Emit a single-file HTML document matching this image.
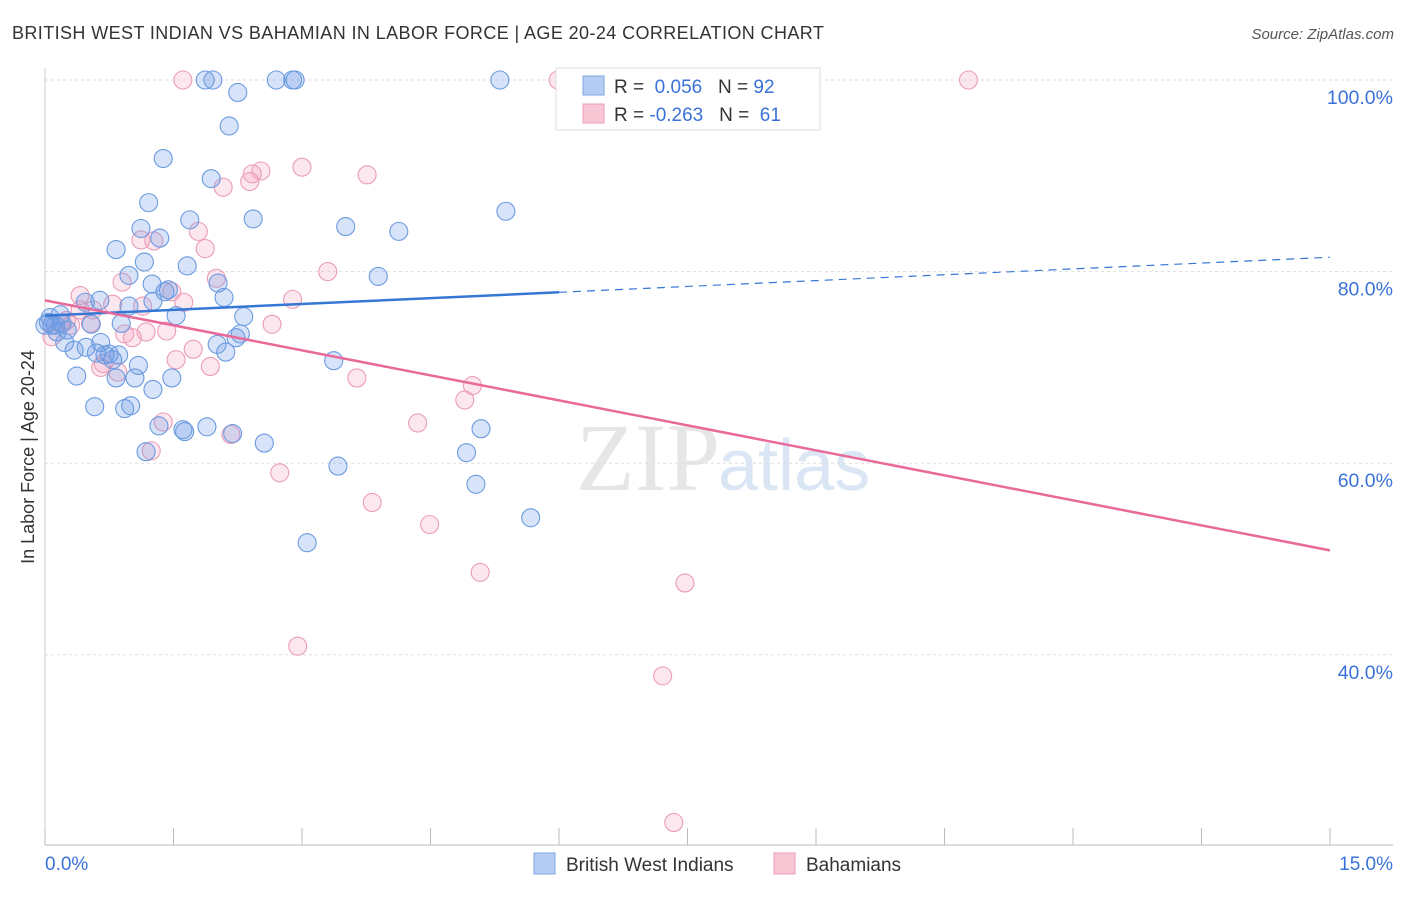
<!DOCTYPE html>
<html><head><meta charset="utf-8"><style>
body{margin:0;background:#fff;font-family:"Liberation Sans",sans-serif;}
</style></head><body>
<svg id="c" width="1406" height="892" xmlns="http://www.w3.org/2000/svg">
<text x="12" y="39" font-size="18" fill="#333" letter-spacing="0.4">BRITISH WEST INDIAN VS BAHAMIAN IN LABOR FORCE | AGE 20-24 CORRELATION CHART</text>
<text x="1394" y="39" font-size="15" fill="#555" font-style="italic" text-anchor="end">Source: ZipAtlas.com</text>
<text x="720" y="490" font-size="96" fill="#e6e6e6" text-anchor="end" font-family="Liberation Serif,serif">ZIP</text>
<text x="718" y="490" font-size="72" fill="#dbe6f5">atlas</text>
<text transform="translate(34,457) rotate(-90)" font-size="18" fill="#333" text-anchor="middle">In Labor Force | Age 20-24</text>
<g id="grid"></g><g id="pts"></g><g id="lines"></g>
<g>
<rect x="556" y="68" width="264" height="62" fill="#fff" stroke="#ddd"/>
<rect x="583" y="76" width="21" height="19" fill="#b5cdf3" stroke="#7ea6e0"/>
<rect x="583" y="104" width="21" height="19" fill="#f9c6d6" stroke="#eb9cb7"/>
<text x="614" y="93" font-size="19" fill="#333">R = <tspan fill="#3a72d8">&#160;0.056</tspan>&#160;&#160;&#160;N = <tspan fill="#3a72d8">92</tspan></text>
<text x="614" y="121" font-size="19" fill="#333">R = <tspan fill="#3a72d8">-0.263</tspan>&#160;&#160;&#160;N = <tspan fill="#3a72d8">&#160;61</tspan></text>
</g>
<g>
<rect x="534" y="853" width="21" height="21" fill="#b5cdf3" stroke="#7ea6e0"/>
<text x="566" y="871" font-size="19" fill="#333">British West Indians</text>
<rect x="774" y="853" width="21" height="21" fill="#f9c6d6" stroke="#eb9cb7"/>
<text x="806" y="871" font-size="19" fill="#333">Bahamians</text>
</g>
<text x="45" y="870" font-size="19" fill="#3a72d8">0.0%</text>
<text x="1393" y="870" font-size="19" fill="#3a72d8" text-anchor="end">15.0%</text>
</svg>
<script>
const yTicks=[100,80,60,40];
const xTicks=[0,1.5,3,4.5,6,7.5,9,10.5,12,13.5,15];
const blueX=[1.87,1.96,2.70,2.89,2.92,5.31,2.25,2.15,1.38,1.94,1.21,1.69,2.43,5.38,3.51,4.13,1.12,1.34,0.83,1.16,1.66,0.98,3.89,1.25,1.44,1.40,2.02,2.09,1.26,0.47,0.64,0.98,1.53,2.32,0.18,0.06,0.12,0.54,0.89,0.26,0.14,2.28,2.23,0.23,0.65,2.01,0.48,0.34,0.75,0.86,2.11,0.60,0.70,0.79,1.09,3.37,0.37,1.05,1.48,0.83,1.26,0.58,0.93,1.00,1.33,1.61,1.63,1.89,2.19,2.56,1.18,3.42,4.92,5.09,5.03,5.67,3.06,0.04,0.08,0.20,0.0];
const blueY=[100,100,100,100,100,100,98.7,95.2,91.8,89.7,87.2,85.4,85.5,86.3,84.7,84.2,84.5,83.5,82.3,81.0,80.6,79.6,79.5,78.7,78.1,77.9,78.8,77.3,76.9,76.8,77.0,76.4,75.4,75.3,75.5,75.2,74.4,74.5,74.6,73.9,73.7,73.5,73.1,72.6,72.6,72.4,72.1,71.8,71.4,71.3,71.6,71.5,71.3,70.8,70.2,70.7,69.1,68.9,68.9,68.9,67.7,65.9,65.7,66.0,63.9,63.5,63.3,63.8,63.1,62.1,61.2,59.7,61.1,63.6,57.8,54.3,51.7,74.7,74.4,74.6,74.4];
const pinkX=[1.61,5.99,10.78,3.00,2.52,2.42,2.39,3.76,2.08,1.79,1.87,1.27,1.12,3.30,2.00,0.90,1.48,0.41,1.62,2.89,0.79,0.41,0.56,1.14,0.53,2.65,0.18,0.30,1.18,1.42,0.93,0.08,1.02,1.73,1.53,0.68,0.85,1.93,0.65,3.64,4.99,4.90,4.35,1.38,2.17,1.24,2.74,3.82,4.49,5.08,7.47,2.95,7.21,7.34,0.25];
const pinkY=[100,100,100,90.9,90.5,90.2,89.4,90.1,88.8,84.2,82.4,83.2,83.3,80.0,79.3,78.9,77.9,77.5,76.8,77.1,76.6,76.0,76.0,76.4,74.6,74.5,74.6,74.4,73.7,73.8,73.5,73.2,73.1,71.9,70.8,70.4,69.5,70.1,70.0,68.9,68.1,66.6,64.2,64.3,63.0,61.3,59.0,55.9,53.6,48.6,47.5,40.9,37.8,22.5,74.9];
const blueTrend=[75.4,81.5];
const pinkTrend=[77.0,50.9];
const NS='http://www.w3.org/2000/svg';
const sx=v=>45+v*(1285/15);
const sy=v=>80+(100-v)*9.58;
function mk(t,a,p){const e=document.createElementNS(NS,t);for(const k in a)e.setAttribute(k,a[k]);document.getElementById(p).appendChild(e);return e;}
yTicks.forEach(t=>{
 const l=mk('line',{x1:45,x2:1393,y1:sy(t),y2:sy(t),stroke:'#ddd','stroke-dasharray':'3,3'},'grid');
 
 
 const tx=mk('text',{x:1393,y:sy(t)+24,'font-size':19.5,fill:'#3a72d8','text-anchor':'end'},'grid');
 tx.textContent=t.toFixed(1)+'%';
 
 
});
const ax=mk('line',{x1:45,x2:1393,y1:845,y2:845,stroke:'#bbb'},'grid');


const ay=mk('line',{x1:45,x2:45,y1:68,y2:845,stroke:'#ccc'},'grid');


xTicks.forEach(t=>{
 const l=mk('line',{x1:sx(t),x2:sx(t),y1:828,y2:845,stroke:'#bbb'},'grid');
 
 
});
function pts(X,Y,fill,stroke,name){
 X.forEach((x,i)=>{
  const c=mk('circle',{cx:sx(x),cy:sy(Y[i]),r:9,fill:fill,stroke:stroke,'stroke-width':1.1},'pts');
  
  
 });
}
pts(pinkX,pinkY,'rgba(244,160,188,0.25)','#eb9cb7','bahamian-point');
pts(blueX,blueY,'rgba(110,155,230,0.28)','#6b9be0','british-west-indian-point');
const bAt=x=>blueTrend[0]+(blueTrend[1]-blueTrend[0])*x/15;
const b1=mk('line',{x1:sx(0),y1:sy(bAt(0)),x2:sx(6),y2:sy(bAt(6)),stroke:'#3577d4','stroke-width':2.5},'lines');


const b2=mk('line',{x1:sx(6),y1:sy(bAt(6)),x2:sx(15),y2:sy(bAt(15)),stroke:'#3577d4','stroke-width':1.2,'stroke-dasharray':'8,6'},'lines');


const p1=mk('line',{x1:sx(0),y1:sy(pinkTrend[0]),x2:sx(15),y2:sy(pinkTrend[1]),stroke:'#e8699a','stroke-width':2.5},'lines');


</script>
</body></html>
